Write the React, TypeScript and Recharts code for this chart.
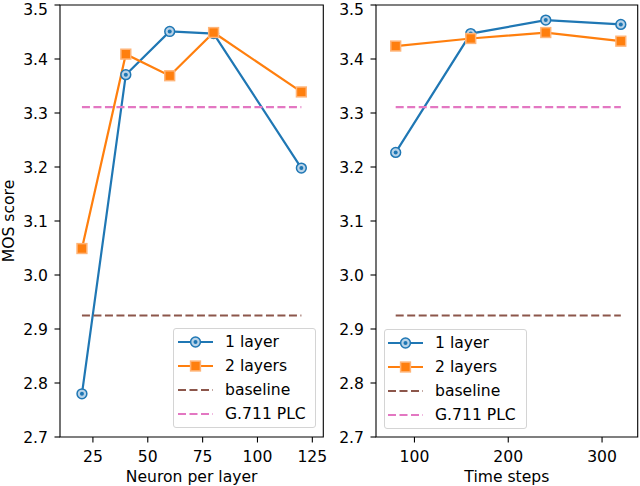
import React from 'react';
import { LineChart, Line, XAxis, YAxis, ReferenceArea } from 'recharts';

const neurons = [20, 40, 60, 80, 120];
const neuron1Layer = [2.78, 3.371, 3.451, 3.447, 3.198];
const neuron2Layers = [3.049, 3.409, 3.369, 3.449, 3.339];

const timeSteps = [80, 160, 240, 320];
const time1Layer = [3.227, 3.447, 3.472, 3.464];
const time2Layers = [3.424, 3.438, 3.449, 3.433];

const baselineScore = 2.925;
const g711Score = 3.311;

const yTicks = [2.7, 2.8, 2.9, 3.0, 3.1, 3.2, 3.3, 3.4, 3.5];
const neuronTicks = [25, 50, 75, 100, 125];
const timeTicks = [100, 200, 300];

const seriesNames = ['1 layer', '2 layers', 'baseline', 'G.711 PLC'];

const BLUE = '#1f77b4';
const ORANGE = '#ff7f0e';
const BROWN = '#8c564b';
const PINK = '#e377c2';
const FONT = 'DejaVu Sans, sans-serif';
const FS = 15.6;
const LW = 2.2;
const DASH = '8 3.5';
const TICK = 5.5;

const neuronRows = neurons.map((x, i) => ({ x, one: neuron1Layer[i], two: neuron2Layers[i] }));
const timeRows = timeSteps.map((x, i) => ({ x, one: time1Layer[i], two: time2Layers[i] }));

const flat = (xs: number[], v: number) => [
  { x: xs[0], y: v },
  { x: xs[xs.length - 1], y: v },
];

const CircleMark = (props: any) => {
  const { cx, cy, index } = props;
  if (cx == null || cy == null) return null;
  return (
    <g key={`c${index}`}>
      <circle cx={cx} cy={cy} r={4.9} fill="#b9d3e8" stroke={BLUE} strokeWidth={1.5} />
      <circle cx={cx} cy={cy} r={2} fill={BLUE} />
    </g>
  );
};

const SquareMark = (props: any) => {
  const { cx, cy, index } = props;
  if (cx == null || cy == null) return null;
  return (
    <rect
      key={`s${index}`}
      x={cx - 4.9}
      y={cy - 4.9}
      width={9.8}
      height={9.8}
      fill={ORANGE}
      stroke="#ffb477"
      strokeWidth={1.5}
    />
  );
};

const LegendBox = ({ left, top, padLeft }: { left: number; top: number; padLeft: number }) => {
  const row = (i: number) => {
    const name = seriesNames[i];
    let sample: React.ReactNode;
    if (i === 0) {
      sample = (
        <svg width={35} height={14}>
          <line x1={0} y1={7} x2={35} y2={7} stroke={BLUE} strokeWidth={LW} />
          <circle cx={17.5} cy={7} r={4.9} fill="#b9d3e8" stroke={BLUE} strokeWidth={1.5} />
          <circle cx={17.5} cy={7} r={2} fill={BLUE} />
        </svg>
      );
    } else if (i === 1) {
      sample = (
        <svg width={35} height={14}>
          <line x1={0} y1={7} x2={35} y2={7} stroke={ORANGE} strokeWidth={LW} />
          <rect x={12.6} y={2.1} width={9.8} height={9.8} fill={ORANGE} stroke="#ffb477" strokeWidth={1.5} />
        </svg>
      );
    } else {
      sample = (
        <svg width={35} height={14}>
          <line x1={0} y1={7} x2={35} y2={7} stroke={i === 2 ? BROWN : PINK} strokeWidth={LW} strokeDasharray={DASH} />
        </svg>
      );
    }
    return (
      <div key={name} style={{ display: 'flex', alignItems: 'center', height: 24 }}>
        <div style={{ width: 35, height: 14, marginRight: 12, display: 'flex' }}>{sample}</div>
        <span style={{ fontSize: FS, color: '#000', whiteSpace: 'nowrap', lineHeight: '18px' }}>{name}</span>
      </div>
    );
  };
  return (
    <div
      style={{
        position: 'absolute',
        left,
        top,
        boxSizing: 'border-box',
        width: 143,
        height: 100,
        border: '1px solid #d4d4d4',
        borderRadius: 3,
        background: 'rgba(255,255,255,0.8)',
        padding: `1px 0 0 ${padLeft}px`,
        fontFamily: FONT,
      }}
    >
      {[0, 1, 2, 3].map(row)}
    </div>
  );
};

const tickStyle = { fill: '#000', fontSize: FS, fontFamily: FONT };
const labelStyle = { fill: '#000', fontSize: FS, fontFamily: FONT };

export default function App() {
  return (
    <div style={{ position: 'absolute', left: 0, top: 0, width: 640, height: 486, background: '#fff', fontFamily: FONT }}>
      <div style={{ position: 'absolute', left: 0, top: 0 }}>
        <LineChart width={335} height={486} margin={{ top: 5, right: 11.7, bottom: 0, left: 0 }}>
          <XAxis
            dataKey="x"
            type="number"
            domain={[10, 130]}
            ticks={neuronTicks}
            allowDuplicatedCategory={false}
            axisLine={false}
            tickLine={{ stroke: '#000', strokeWidth: 1.1 }}
            tickSize={TICK}
            tickMargin={8}
            tick={tickStyle}
            height={49}
            label={{ value: 'Neuron per layer', position: 'insideBottom', offset: 4, style: labelStyle }}
          />
          <YAxis
            type="number"
            domain={[2.7, 3.5]}
            ticks={yTicks}
            tickFormatter={(v: number) => v.toFixed(1)}
            axisLine={false}
            tickLine={{ stroke: '#000', strokeWidth: 1.1 }}
            tickSize={TICK}
            tickMargin={6.5}
            tick={tickStyle}
            width={60}
            label={{ value: 'MOS score', angle: -90, position: 'insideLeft', offset: 8.5, style: { ...labelStyle, textAnchor: 'middle' } }}
          />
          <Line data={neuronRows} dataKey="one" stroke={BLUE} strokeWidth={LW} dot={CircleMark} activeDot={false} isAnimationActive={false} />
          <Line data={neuronRows} dataKey="two" stroke={ORANGE} strokeWidth={LW} dot={SquareMark} activeDot={false} isAnimationActive={false} />
          <Line data={flat(neurons, baselineScore)} dataKey="y" stroke={BROWN} strokeWidth={LW} strokeDasharray={DASH} dot={false} activeDot={false} isAnimationActive={false} />
          <Line data={flat(neurons, g711Score)} dataKey="y" stroke={PINK} strokeWidth={LW} strokeDasharray={DASH} dot={false} activeDot={false} isAnimationActive={false} />
          <ReferenceArea x1={10} x2={130} y1={2.7} y2={3.5} fill="none" fillOpacity={0} stroke="#000" strokeWidth={1.1} ifOverflow="visible" />
        </LineChart>
      </div>
      <div style={{ position: 'absolute', left: 320, top: 0 }}>
        <LineChart width={320} height={486} margin={{ top: 5, right: 2.3, bottom: 0, left: 0 }}>
          <XAxis
            dataKey="x"
            type="number"
            domain={[59, 338]}
            ticks={timeTicks}
            allowDuplicatedCategory={false}
            axisLine={false}
            tickLine={{ stroke: '#000', strokeWidth: 1.1 }}
            tickSize={TICK}
            tickMargin={8}
            tick={tickStyle}
            height={49}
            label={{ value: 'Time steps', position: 'insideBottom', offset: 4, style: labelStyle }}
          />
          <YAxis
            type="number"
            domain={[2.7, 3.5]}
            ticks={yTicks}
            tickFormatter={(v: number) => v.toFixed(1)}
            axisLine={false}
            tickLine={{ stroke: '#000', strokeWidth: 1.1 }}
            tickSize={TICK}
            tickMargin={6.5}
            tick={tickStyle}
            width={56}
          />
          <Line data={timeRows} dataKey="one" stroke={BLUE} strokeWidth={LW} dot={CircleMark} activeDot={false} isAnimationActive={false} />
          <Line data={timeRows} dataKey="two" stroke={ORANGE} strokeWidth={LW} dot={SquareMark} activeDot={false} isAnimationActive={false} />
          <Line data={flat(timeSteps, baselineScore)} dataKey="y" stroke={BROWN} strokeWidth={LW} strokeDasharray={DASH} dot={false} activeDot={false} isAnimationActive={false} />
          <Line data={flat(timeSteps, g711Score)} dataKey="y" stroke={PINK} strokeWidth={LW} strokeDasharray={DASH} dot={false} activeDot={false} isAnimationActive={false} />
          <ReferenceArea x1={59} x2={338} y1={2.7} y2={3.5} fill="none" fillOpacity={0} stroke="#000" strokeWidth={1.1} ifOverflow="visible" />
        </LineChart>
      </div>
      <LegendBox left={172.5} top={328} padLeft={4.5} />
      <LegendBox left={384} top={329} padLeft={3} />
    </div>
  );
}
